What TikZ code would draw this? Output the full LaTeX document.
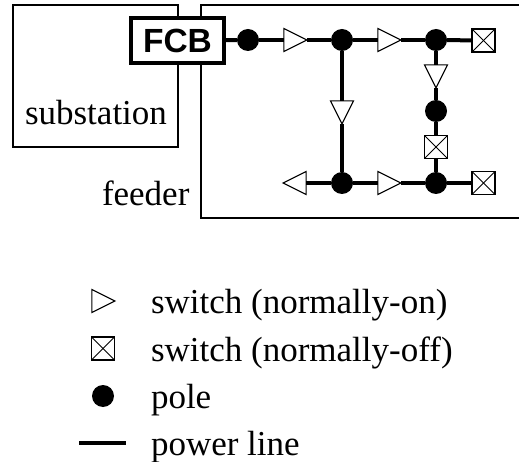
\documentclass[tikz,border=0pt]{standalone}
\usepackage{fontspec}
\setmainfont{Liberation Serif}
\setsansfont{Liberation Sans}
\usetikzlibrary{positioning,shapes.geometric}

\begin{document}
\begin{tikzpicture}[
    x=1pt,
    y=-1pt,
    outer sep=0pt,
    area/.style={
        rectangle,
        draw=black,
        line width=1.2pt,
        minimum width=165pt,
        minimum height=142pt
    },
    label/.style={
        anchor=base west,
        inner sep=0pt,
        font=\fontsize{35}{35}\selectfont
    },
    breaker/.style={
        rectangle,
        draw=black,
        line width=3.2pt,
        fill=white,
        minimum width=93pt,
        minimum height=45pt,
        inner sep=0pt,
        font=\fontsize{33.5}{33.5}\selectfont\sffamily\bfseries
    },
    pole/.style={
        circle,
        fill=black,
        minimum size=22pt,
        inner sep=0pt
    },
    swon/.style={
        isosceles triangle,
        isosceles triangle stretches,
        shape border rotate=#1,
        draw=black,
        line width=1.2pt,
        fill=white,
        minimum width=23pt,
        minimum height=23pt,
        inner sep=0pt
    },
    swoff/.style={
        rectangle,
        draw=black,
        line width=1.2pt,
        fill=white,
        minimum size=23pt,
        inner sep=0pt,
        path picture={
            \draw[line width=1pt] (path picture bounding box.north west) -- (path picture bounding box.south east);
            \draw[line width=1pt] (path picture bounding box.south west) -- (path picture bounding box.north east);
        }
    },
    line/.style={draw, line width=4pt}
]
    \useasboundingbox (0,0) rectangle (519,462);

    % Substation and feeder
    \node[area] (substation) at (95.5,76) {};
    \coordinate (ftop) at (519,5);
    \coordinate (fbot) at (519,218);
    \draw[line width=1.2pt] (ftop) -- (201,5) -- (201,218) -- (fbot);
    \node[label] (sublabel) at (25,125) {substation};
    \node[label] (feedlabel) at (102,206) {feeder};
    \node[breaker] (fcb) at (177.5,40.5) {FCB};

    % Poles
    \node[pole] (p1) at (248,40) {};
    \node[pole] (p2) at (342,40) {};
    \node[pole] (p3) at (436,40) {};
    \node[pole] (p4) at (436,111) {};
    \node[pole] (p5) at (342,183) {};
    \node[pole] (p6) at (436,183) {};

    % Switches
    \node[swon=0] (s1) at (291,40) {};
    \node[swon=0] (s2) at (385,40) {};
    \node[swon=-90] (s3) at (342,108) {};
    \node[swon=-90] (s4) at (436,72) {};
    \node[swon=180] (s5) at (299,183) {};
    \node[swon=0] (s6) at (385,183) {};
    \node[swoff] (x1) at (483.5,40.5) {};
    \node[swoff] (x2) at (436,147) {};
    \node[swoff] (x3) at (483.5,183) {};

    % Connections
    \draw[line] (fcb) -- (p1);
    \draw[line] (p1) -- (s1);
    \draw[line] (s1) -- (p2);
    \draw[line] (p2) -- (s2);
    \draw[line] (s2) -- (p3);
    \draw[line] (p3) -- (x1);
    \draw[line] (p2) -- (s3);
    \draw[line] (s3) -- (p5);
    \draw[line] (p3) -- (s4);
    \draw[line] (s4) -- (p4);
    \draw[line] (p4) -- (x2);
    \draw[line] (x2) -- (p6);
    \draw[line] (s5) -- (p5);
    \draw[line] (p5) -- (s6);
    \draw[line] (s6) -- (p6);
    \draw[line] (p6) -- (x3);

    % Legend
    \node[swon=0] (kon) at (99,301) {};
    \node[swoff] (koff) at (103,348.5) {};
    \node[pole] (kpole) at (103,396) {};
    \coordinate (kl) at (79,443);
    \coordinate (kr) at (126,443);
    \draw[line] (kl) -- (kr);
    \node[label] (tkon) at (151,313) {switch (normally-on)};
    \node[label] (tkoff) at (151,361) {switch (normally-off)};
    \node[label] (tkpole) at (151,408) {pole};
    \node[label] (tkl) at (151,455) {power line};
\end{tikzpicture}
\end{document}
